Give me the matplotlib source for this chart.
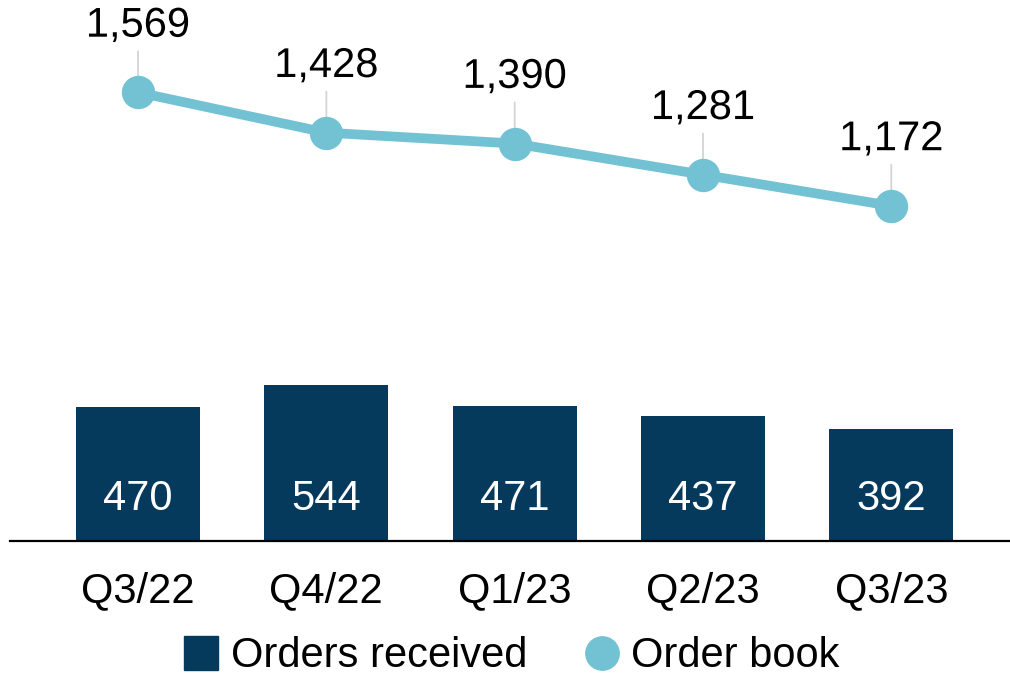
import matplotlib
matplotlib.use("Agg")
import matplotlib.pyplot as plt
import matplotlib.patheffects as pe
from matplotlib.lines import Line2D

categories = ["Q3/22", "Q4/22", "Q1/23", "Q2/23", "Q3/23"]
orders_received = [470, 544, 471, 437, 392]
order_book = [1569, 1428, 1390, 1281, 1172]

bar_color = "#053A5C"
line_color = "#72C2D4"

plt.rcParams['font.family'] = ['Liberation Sans', 'DejaVu Sans']

fig = plt.figure(figsize=(10.1, 6.75), dpi=100)
ax = fig.add_axes([0.0099, 0.1985, 0.99, 0.8015])

x = list(range(len(categories)))
ax.bar(x, orders_received, width=0.66, color=bar_color, zorder=2)
for xi, v in zip(x, orders_received):
    ax.text(xi, 148, f"{v:,}", ha="center", va="center", color="white",
            fontsize=30, zorder=4)

ax.plot(x, order_book, color=line_color, lw=7, marker="o", markersize=23,
        zorder=5, solid_capstyle="round")
for xi, v in zip(x, order_book):
    t = ax.annotate(f"{v:,}", xy=(xi, v), xytext=(0, 48), textcoords="offset points",
                    ha="center", va="center", fontsize=30, color="black",
                    zorder=1.5,
                    arrowprops=dict(arrowstyle="-", color="#d4d4d4", lw=1.3,
                                    shrinkA=2, shrinkB=0))
    t.set_path_effects([pe.withStroke(linewidth=4, foreground="white")])

ax.set_xlim(-0.68, 4.63)
ax.set_ylim(0, 1892)
for s in ["top", "right", "left"]:
    ax.spines[s].set_visible(False)
ax.spines["bottom"].set_linewidth(1.6)
ax.spines["bottom"].set_color("black")
ax.set_yticks([])
ax.set_xticks(x)
ax.set_xticklabels(categories, fontsize=30)
ax.tick_params(axis="x", length=0, pad=22)

handles = [
    Line2D([], [], marker="s", color="none", markerfacecolor=bar_color,
           markeredgecolor=bar_color, markersize=24, label="Orders received"),
    Line2D([], [], marker="o", color="none", markerfacecolor=line_color,
           markeredgecolor=line_color, markersize=24, label="Order book"),
]
fig.legend(handles=handles, loc="center", bbox_to_anchor=(0.505, 0.028), ncol=2,
           frameon=False, fontsize=30, handletextpad=0.2, columnspacing=1.3,
           handlelength=1.0, borderaxespad=0)

fig.savefig("out.png", dpi=100)
